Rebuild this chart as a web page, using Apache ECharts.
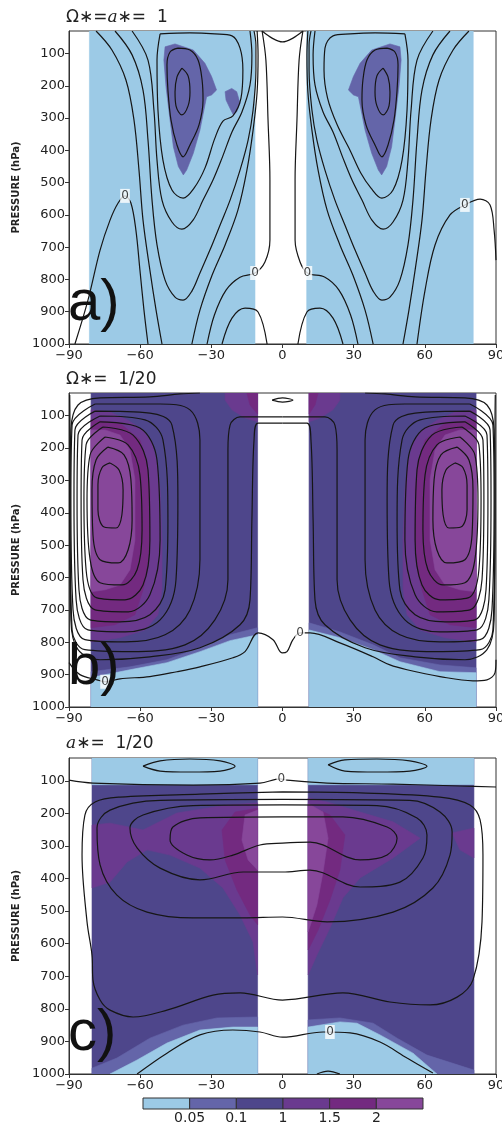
<!DOCTYPE html>
<html><head><meta charset="utf-8">
<script src="https://cdn.jsdelivr.net/npm/echarts@6/dist/echarts.min.js"></script>
<style>html,body{margin:0;padding:0;background:#fff}#c{width:502px;height:1122px}</style>
</head><body><div id="c"></div>
<script>
// ---------- axis ticks ----------
const latTicks = [-90,-60,-30,0,30,60,90];
const pTicks = [100,200,300,400,500,600,700,800,900,1000];
const cbLabels = ['0.05','0.1','1','1.5','2'];

// ---------- panel a (Ω*=a*=1) ----------
const aBands = [[-81.4,-11.6],[10.2,80.4]];
const aBlobL = [[-49.5,79],[-45.3,70],[-37.6,89],[-32.7,130],[-29.9,171],[-27.8,213],[-29.9,228],[-32.0,234],[-33.4,285],[-34.8,337],[-37.6,409],[-40.4,461],[-41.8,476],[-43.9,450],[-46.0,389],[-47.4,306],[-49.1,203],[-50.0,120]];
const aBlobSmall = [[-24.2,218],[-21.4,208],[-19.3,218],[-17.9,254],[-19.3,280],[-20.7,290],[-22.1,270],[-23.8,244]];
const aBlobR = [[49.5,79],[45.3,70],[37.6,89],[32.7,130],[29.9,171],[27.8,213],[29.9,228],[32.0,234],[33.4,285],[34.8,337],[37.6,409],[40.4,461],[41.8,476],[43.9,450],[46.0,389],[47.4,306],[49.1,203],[50.0,120]];
const aL1 = [[-42.4,145],[-39.8,169],[-39,219],[-39.8,262],[-42.4,290],[-44.9,262],[-45.3,219],[-44.5,173],[-42.4,145]];
const aL2 = [[-44.1,83],[-39,89],[-35.6,120],[-33.9,182],[-33.5,244],[-35.2,321],[-39,383],[-41.9,420],[-44.5,383],[-47,306],[-48.3,213],[-48.7,135],[-47.4,95],[-44.1,83]];
const aL3 = [[-51.6,39],[-39,36],[-28.5,39],[-21.3,45],[-17.9,83],[-16.7,151],[-17.5,238],[-20.9,293],[-25.1,309],[-28.5,362],[-32.7,455],[-37.3,517],[-41.9,548],[-46.6,523],[-50.4,430],[-52.5,275],[-52.9,120],[-51.6,39]];
const aL4 = [[-63.4,30],[-56.7,120],[-54.2,275],[-52.9,430],[-50.8,554],[-46.6,622],[-42.4,644],[-37.7,616],[-33.5,554],[-29.3,492],[-25.5,424],[-21.3,343],[-17.1,281],[-13.7,197],[-12.9,104],[-13.7,30]];
const aL5 = [[-70.6,30],[-63.4,104],[-58.8,213],[-56.7,368],[-55,554],[-52.9,693],[-49.5,802],[-45.3,855],[-41.9,864],[-38.2,836],[-34.8,780],[-30.6,709],[-26.3,631],[-22.1,554],[-17.9,461],[-14.5,368],[-12.4,275],[-11.2,151],[-11.2,73],[-12,30]];
const aL6 = [[-78.6,30],[-71.9,89],[-66,182],[-62.6,306],[-60.5,461],[-58.8,616],[-55.9,771],[-53.3,895],[-50.8,1000]];
const a0L = [[-87.5,1000],[-82,864],[-76.9,709],[-72.7,616],[-69.3,563],[-66.4,541],[-63.9,563],[-61.8,647],[-60.1,771],[-58.4,895],[-56.7,1000]];
const aL7 = [[-38.2,1000],[-34.8,895],[-29.7,787],[-24.2,693],[-18.8,585],[-15,461],[-12.4,337],[-10.7,219],[-10.3,104],[-10.7,30]];
const aL8 = [[-31.8,1000],[-28.7,910],[-23.8,833],[-17.9,793],[-11.6,780],[-7.4,746],[-5.3,678],[-5.3,492],[-6.1,306],[-7,120],[-8.6,30]];
const aL9 = [[-25.5,1000],[-21.3,920],[-15.8,889],[-10.3,901],[-6.5,1000]];
const aArch = [[-8.6,30],[-4.4,52],[0,64],[4.4,52],[8.6,30]];
const aR1 = [[42.4,145],[39.8,169],[39,219],[39.8,262],[42.4,290],[44.9,262],[45.3,219],[44.5,173],[42.4,145]];
const aR2 = [[44.1,83],[39,89],[35.6,120],[33.9,182],[33.5,244],[35.2,321],[39,383],[41.9,420],[44.5,383],[47,306],[48.3,213],[48.7,135],[47.4,95],[44.1,83]];
const aR3 = [[51.6,39],[39,36],[28.5,39],[21.3,45],[17.9,83],[17.5,151],[19,238],[23,320],[28.5,400],[33,470],[37.3,517],[41.9,548],[46.6,523],[50.4,430],[52.5,275],[52.9,120],[51.6,39]];
const aR4 = [[63.4,30],[56.7,120],[54.2,275],[52.9,430],[50.8,554],[46.6,622],[42.4,644],[37.7,616],[33.5,554],[29.3,492],[25.5,424],[21.3,343],[17.1,281],[13.7,197],[12.9,104],[13.7,30]];
const aR5 = [[70.6,30],[63.4,104],[58.8,213],[56.7,368],[55,554],[52.9,693],[49.5,802],[45.3,855],[41.9,864],[38.2,836],[34.8,780],[30.6,709],[26.3,631],[22.1,554],[17.9,461],[14.5,368],[12.4,275],[11.2,151],[11.2,73],[12,30]];
const aR6 = [[78.6,30],[71.9,89],[66,182],[62.6,306],[60.5,461],[58.8,616],[55.9,771],[53.3,895],[50.8,1000]];
const a0R = [[56.7,1000],[60.1,833],[64.3,693],[70.6,600],[76.9,569],[83.3,551],[87.5,569],[89.2,647],[90,740]];
const aR7 = [[38.2,1000],[34.8,895],[29.7,787],[24.2,693],[18.8,585],[15,461],[12.4,337],[10.7,219],[10.3,104],[10.7,30]];
const aR8 = [[31.8,1000],[28.7,910],[23.8,833],[17.9,793],[10.5,780],[7.4,746],[5.3,678],[5.3,492],[6.1,306],[7,120],[8.6,30]];
const aR9 = [[25.5,1000],[21.3,920],[15.8,889],[10.3,901],[6.5,1000]];
const aZeroLabels = [[-66.4,541],[-11.6,780],[10.5,780],[76.9,569]];

// ---------- panel b (Ω*=1/20) ----------
const bBands = [[-80.7,-10.5],[11.2,81.6]];
const bP1L = [[-80.7,82],[-72.7,89],[-65.5,113],[-58.8,144],[-55,184],[-52.9,246],[-51.6,329],[-50.8,484],[-50.8,638],[-52.5,715],[-58,762],[-68.5,786],[-80.7,799]];
const bP2L = [[-80.7,113],[-68.5,123],[-60.1,175],[-57.1,246],[-55.9,329],[-55.9,484],[-57.1,586],[-58.8,638],[-62.2,715],[-70.6,746],[-80.7,755]];
const bP3L = [[-80.7,144],[-74.8,144],[-68.5,160],[-64.3,206],[-62.2,298],[-62.2,484],[-64.3,576],[-68.5,623],[-74.8,638],[-80.7,644]];
const bP1R = [[81.6,82],[72.7,89],[65.5,113],[58.8,144],[55,184],[52.9,246],[51.6,329],[50.8,484],[50.8,638],[52.5,715],[58,762],[68.5,786],[81.6,799]];
const bP2R = [[81.6,113],[68.5,123],[60.1,175],[57.1,246],[55.9,329],[55.9,484],[57.1,586],[58.8,638],[62.2,715],[70.6,746],[81.6,755]];
const bP3R = [[81.6,144],[74.8,144],[68.5,160],[64.3,206],[62.2,298],[62.2,484],[64.3,576],[68.5,623],[74.8,638],[81.6,644]];
const bT1L = [[-24.2,30],[-10.5,30],[-10.5,119],[-15.8,107],[-21.3,82],[-24.2,52]];
const bT2L = [[-15,30],[-10.5,30],[-10.5,95],[-13.7,67]];
const bT1R = [[24.2,30],[11.2,30],[11.2,119],[15.8,107],[21.3,82],[24.2,52]];
const bT2R = [[15,30],[11.2,30],[11.2,95],[13.7,67]];
const bMidL = [[-80.7,891],[-64.3,876],[-48.7,854],[-34.8,817],[-22.1,777],[-10.5,755],[-10.5,1000],[-80.7,1000]];
const bLbL = [[-80.7,909],[-64.3,885],[-48.7,863],[-34.8,829],[-22.1,795],[-10.5,777],[-10.5,1000],[-80.7,1000]];
const bMidR = [[11.2,740],[24.2,768],[38.2,808],[49.5,848],[66.4,870],[81.6,879],[81.6,1000],[11.2,1000]];
const bLbR = [[11.2,762],[24.2,786],[38.2,823],[49.5,860],[66.4,891],[81.6,894],[81.6,1000],[11.2,1000]];
const bL1 = [[-72.7,246],[-68.9,268],[-67.2,329],[-67.7,406],[-70.2,447],[-75.2,444],[-77.8,391],[-77.8,314],[-76.1,261],[-72.7,246]];
const bL2 = [[-73.6,197],[-66.8,221],[-63.9,298],[-63.4,422],[-65.1,515],[-69.3,555],[-76.9,545],[-79.9,468],[-80.3,329],[-78.6,237],[-73.6,197]];
const bL3 = [[-74.8,166],[-65.1,190],[-60.1,283],[-59.2,453],[-61.3,576],[-67.7,623],[-76.9,616],[-81.1,545],[-82.4,360],[-81.1,221],[-74.8,166]];
const bL4 = [[-75.7,135],[-63,160],[-56.7,268],[-55.9,484],[-58.8,623],[-66.4,669],[-78.2,663],[-82.8,576],[-83.7,360],[-82.8,190],[-75.7,135]];
const bL5 = [[-76.9,119],[-60.1,138],[-52.9,237],[-51.6,484],[-55.9,653],[-65.1,706],[-79,700],[-84.1,607],[-84.9,360],[-84.5,175],[-76.9,119]];
const bL6 = [[-76.9,101],[-58,113],[-50.4,175],[-48.3,422],[-49.5,638],[-55.9,715],[-68.5,737],[-81.1,731],[-85.8,638],[-86.6,360],[-86.2,160],[-76.9,101]];
const bL7 = [[-79,86],[-55.9,92],[-46.6,129],[-44.1,360],[-44.9,607],[-51.6,731],[-66.4,768],[-82,762],[-87,669],[-87.9,360],[-87.5,144],[-79,86]];
const bL8 = [[-79,64],[-51.6,64],[-39,82],[-34.8,175],[-34.8,545],[-39,700],[-49.5,777],[-66.4,799],[-83.3,792],[-88.3,700],[-89.2,360],[-88.7,129],[-79,64]];
const bL9 = [[0,104],[-10.3,104],[-17.9,104],[-22.1,129],[-23,206],[-23,607],[-28.5,731],[-41.1,808],[-64.3,829],[-83.3,823],[-88.7,762],[-89.6,360],[-89.2,144],[-86.2,67],[-76.9,45],[-55.9,42],[-43.2,33],[-34.8,30]];
const bL10 = [[0,123],[-10.3,123],[-12,175],[-12.9,422],[-13.7,669],[-17.9,746],[-34.8,817],[-55.9,845],[-76.9,854],[-86.2,823],[-89.2,731],[-89.6,360],[-89.6,113],[-89.7,36]];
const bR1 = [[72.7,246],[68.9,268],[67.2,329],[67.7,406],[70.2,447],[75.2,444],[77.8,391],[77.8,314],[76.1,261],[72.7,246]];
const bR2 = [[73.6,197],[66.8,221],[63.9,298],[63.4,422],[65.1,515],[69.3,555],[76.9,545],[79.9,468],[80.3,329],[78.6,237],[73.6,197]];
const bR3 = [[74.8,166],[65.1,190],[60.1,283],[59.2,453],[61.3,576],[67.7,623],[76.9,616],[81.1,545],[82.4,360],[81.1,221],[74.8,166]];
const bR4 = [[75.7,135],[63,160],[56.7,268],[55.9,484],[58.8,623],[66.4,669],[78.2,663],[82.8,576],[83.7,360],[82.8,190],[75.7,135]];
const bR5 = [[76.9,119],[60.1,138],[52.9,237],[51.6,484],[55.9,653],[65.1,706],[79,700],[84.1,607],[84.9,360],[84.5,175],[76.9,119]];
const bR6 = [[76.9,101],[58,113],[50.4,175],[48.3,422],[49.5,638],[55.9,715],[68.5,737],[81.1,731],[85.8,638],[86.6,360],[86.2,160],[76.9,101]];
const bR7 = [[79,86],[55.9,92],[46.6,129],[44.1,360],[44.9,607],[51.6,731],[66.4,768],[82,762],[87,669],[87.9,360],[87.5,144],[79,86]];
const bR8 = [[79,64],[51.6,64],[39,82],[34.8,175],[34.8,545],[39,700],[49.5,777],[66.4,799],[83.3,792],[88.3,700],[89.2,360],[88.7,129],[79,64]];
const bR9 = [[0,104],[10.3,104],[17.9,104],[22.1,129],[23,206],[23,607],[28.5,731],[41.1,808],[64.3,829],[83.3,823],[88.7,762],[89.6,360],[89.2,144],[86.2,67],[76.9,45],[55.9,42],[43.2,33],[34.8,30]];
const bR10 = [[0,123],[10.3,123],[12,175],[12.9,422],[13.7,669],[17.9,746],[34.8,817],[55.9,845],[76.9,854],[86.2,823],[89.2,731],[89.6,360],[89.6,113],[89.7,36]];
const b0 = [[-90,863],[-85.4,900],[-78.2,916],[-74.8,922],[-68.5,913],[-55.9,906],[-44.5,891],[-34.8,876],[-20.9,848],[-15.8,829],[-10.3,771],[-4,792],[-0.2,833],[1.9,829],[4.4,792],[7.4,771],[11.6,771],[24.2,802],[38.2,845],[45.3,870],[52.5,885],[66.4,906],[80.3,919],[86.2,916],[89.6,894],[90,854]];
const bEll = [[-4.4,52],[0,45],[4.4,52],[0,58],[-4.4,52]];
const bZeroLabels = [[-74.8,922],[7.4,771]];

// ---------- panel c (a*=1/20) ----------
const cBands = [[-80.3,-10.5],[10.8,80.7]];
const cTopTop = 112;
const cP1L = [[-80.3,236],[-72.7,230],[-58.8,251],[-44.5,199],[-23.4,174],[-10.5,168],[-10.5,696],[-12.4,595],[-17.9,512],[-25.1,429],[-34.8,368],[-47.4,328],[-57.1,312],[-65.5,349],[-72.7,411],[-80.3,429]];
const cP2L = [[-10.5,184],[-20,196],[-25.5,251],[-24.2,343],[-19.2,435],[-13.7,512],[-10.5,542]];
const cP3L = [[-10.5,190],[-15.8,205],[-17.1,282],[-14.5,343],[-10.5,374]];
const cP1R = [[10.8,153],[18.8,165],[32.7,196],[46.6,226],[58,276],[46.6,337],[32.7,398],[25.5,459],[20,552],[14.5,635],[10.8,696]];
const cP1R2 = [[71.5,260],[80.7,245],[80.7,337],[74.8,312]];
const cP2R = [[10.8,174],[20,205],[26.3,266],[24.2,374],[20,466],[15,558],[10.8,619]];
const cP3R = [[10.8,170],[17.1,196],[19.2,276],[17.1,380],[14.5,481],[10.8,564]];
const cMidL = [[-80.3,982],[-69.8,951],[-55.9,890],[-41.9,850],[-27.6,828],[-10.5,825],[-10.5,1000],[-80.3,1000]];
const cLbL = [[-72.7,1000],[-61.3,957],[-48.7,905],[-34.8,865],[-20.9,856],[-10.5,856],[-10.5,1000]];
const cMidR = [[10.8,834],[24.2,828],[38.2,844],[48.3,890],[60.9,942],[80.7,988],[80.7,1000],[10.8,1000]];
const cLbR = [[10.8,856],[24.2,840],[31.4,844],[41.1,880],[55,936],[65.1,1000],[10.8,1000]];
const c0top = [[-90,98],[-79.9,107],[-37.7,113],[-9.5,107],[-1,94],[1.9,98],[18.8,107],[46.6,110],[74.8,116],[90,119]];
const cEllL = [[-58.8,55],[-51.6,39],[-39,33],[-26.3,39],[-20,55],[-26.3,70],[-39,73],[-51.6,70],[-58.8,55]];
const cEllR = [[19.2,51],[26.3,36],[39.8,33],[53.7,39],[60.9,55],[53.7,70],[39.8,73],[26.3,70],[19.2,51]];
const c1 = [[0,134],[-34.8,141],[-68.5,150],[-79,165],[-83.3,205],[-84.5,328],[-82.4,533],[-80.3,635],[-79.9,711],[-76.9,773],[-72.7,804],[-63,825],[-48.7,804],[-29.3,758],[-17.9,751],[0,773],[25.5,751],[45.3,779],[62.2,788],[73.6,764],[80.3,711],[84.1,533],[84.5,328],[83.3,220],[79,174],[66.4,150],[32.7,137],[0,134]];
const c2 = [[0,157],[-51.6,160],[-72.7,190],[-78.2,245],[-76.9,358],[-69.8,451],[-57.1,503],[-37.7,521],[-16.6,521],[0,518],[18.8,533],[46.6,503],[63.4,429],[70.6,328],[71.5,257],[66.4,196],[53.7,160],[0,157]];
const c3 = [[0,174],[-37.7,176],[-58.8,205],[-64.3,245],[-61.3,306],[-51.6,368],[-34.8,404],[-16.6,380],[0,380],[11.6,374],[32.7,426],[49.5,411],[59.2,337],[60.9,266],[56.7,214],[39.8,176],[0,174]];
const c4 = [[0,211],[-34.8,214],[-46.2,242],[-47.4,282],[-40.3,328],[-30.6,343],[-20.9,328],[-9.5,297],[0,291],[11.6,288],[32.7,343],[44.1,328],[48.3,276],[44.1,242],[25.5,211],[0,211]];
const c0bot = [[-61.3,1000],[-48.7,936],[-34.8,880],[-20.9,865],[-9.5,871],[0,887],[17.1,871],[28.5,874],[41.1,902],[52.5,951],[63.4,997]];
const cSmall = [[14.5,1000],[19.2,991],[24.2,1000]];
const cZeroLabels = [[-0.5,94],[20,871]];

// ---------- styles ----------
const COL = {lb:'#9ccae6', mid:'#6465a9', ind:'#4e468b', p1:'#6a3a8f', p2:'#732a80', p3:'#87479a'};
const cbColors = [COL.lb, COL.mid, COL.ind, COL.p1, COL.p2, COL.p3];
const FONT = 'DejaVu Sans';

function band(b, p0, p1){ return [[b[0],p0],[b[1],p0],[b[1],p1],[b[0],p1]]; }

const aLayers = [
  {c:COL.lb, pts:band(aBands[0],30,1000)}, {c:COL.lb, pts:band(aBands[1],30,1000)},
  {c:COL.mid, pts:aBlobL}, {c:COL.mid, pts:aBlobSmall}, {c:COL.mid, pts:aBlobR}
];
const bLayers = [
  {c:COL.ind, pts:band(bBands[0],30,1000)}, {c:COL.ind, pts:band(bBands[1],30,1000)},
  {c:COL.mid, pts:bMidL}, {c:COL.lb, pts:bLbL}, {c:COL.mid, pts:bMidR}, {c:COL.lb, pts:bLbR},
  {c:COL.p1, pts:bP1L}, {c:COL.p2, pts:bP2L}, {c:COL.p3, pts:bP3L},
  {c:COL.p1, pts:bP1R}, {c:COL.p2, pts:bP2R}, {c:COL.p3, pts:bP3R},
  {c:COL.p1, pts:bT1L}, {c:COL.p2, pts:bT2L}, {c:COL.p1, pts:bT1R}, {c:COL.p2, pts:bT2R}
];
const cLayers = [
  {c:COL.ind, pts:band(cBands[0],30,1000)}, {c:COL.ind, pts:band(cBands[1],30,1000)},
  {c:COL.lb, pts:band(cBands[0],30,cTopTop)}, {c:COL.lb, pts:band(cBands[1],30,cTopTop)},
  {c:COL.p1, pts:cP1L}, {c:COL.p2, pts:cP2L}, {c:COL.p3, pts:cP3L},
  {c:COL.p1, pts:cP1R}, {c:COL.p1, pts:cP1R2}, {c:COL.p2, pts:cP2R}, {c:COL.p3, pts:cP3R},
  {c:COL.mid, pts:cMidL}, {c:COL.lb, pts:cLbL}, {c:COL.mid, pts:cMidR}, {c:COL.lb, pts:cLbR}
];

function fillSeries(k, layers){
  return {type:'custom', xAxisIndex:k, yAxisIndex:k, silent:true, z:1, clip:true,
    data: layers.map((L,i)=>[L.pts[0][0], L.pts[0][1], i]),
    renderItem:(params, api)=>{
      const L = layers[api.value(2)];
      return {type:'polygon', shape:{points:L.pts.map(p=>api.coord(p))},
              style:{fill:L.c, stroke:L.c, lineWidth:0.6}};
    }};
}
function lineS(k, d){
  return {type:'line', xAxisIndex:k, yAxisIndex:k, data:d, symbol:'none', smooth:0.35,
          silent:true, z:3, clip:true, lineStyle:{color:'#161616', width:1.2}};
}
function labS(k, d){
  return {type:'scatter', xAxisIndex:k, yAxisIndex:k, data:d, symbolSize:1, silent:true, z:5,
    itemStyle:{color:'rgba(0,0,0,0)'},
    label:{show:true, position:'inside', formatter:'0', fontSize:12, fontFamily:FONT,
           color:'#111', backgroundColor:'#fff', padding:[1,1]}};
}

const gridPos = [
  {left:69, top:31, width:427, height:313},
  {left:69, top:393, width:427, height:314},
  {left:69, top:758, width:427, height:316},
  {left:143, top:1098, width:280, height:11}
];
const grids = gridPos.map((g,i)=>Object.assign({containLabel:false, outerBoundsMode:'none',
  show:i<3, borderColor:'#333', borderWidth:1, backgroundColor:'transparent'}, g));

const xAxes = [0,1,2].map(k=>({gridIndex:k, type:'value', min:-90, max:90,
  axisLine:{show:true, onZero:false, lineStyle:{color:'#333'}},
  axisTick:{show:true, length:4, customValues:latTicks, lineStyle:{color:'#333'}},
  axisLabel:{customValues:latTicks, margin:5, fontSize:13, fontFamily:FONT, color:'#222',
             formatter:v=>String(v).replace('-','\u2212')},
  splitLine:{show:false}}));
xAxes.push({gridIndex:3, type:'value', min:0, max:6, axisLine:{show:false}, axisTick:{show:false},
  splitLine:{show:false},
  axisLabel:{customValues:[1,2,3,4,5], margin:2, fontSize:14, fontFamily:FONT, color:'#222',
             formatter:v=>cbLabels[Math.round(v)-1]}});

const yAxes = [0,1,2].map(k=>({gridIndex:k, type:'value', inverse:true, min:30, max:1000,
  axisLine:{show:true, onZero:false, lineStyle:{color:'#333'}},
  axisTick:{show:true, length:4, customValues:pTicks, lineStyle:{color:'#333'}},
  axisLabel:{customValues:pTicks, margin:4, fontSize:13, fontFamily:FONT, color:'#222',
             formatter:v=>String(v)},
  splitLine:{show:false},
  name:'PRESSURE (hPa)', nameLocation:'middle', nameGap:38, nameRotate:90,
  nameTextStyle:{fontSize:10, fontWeight:'bold', fontFamily:FONT, color:'#222'}}));
yAxes.push({gridIndex:3, type:'value', min:0, max:1, show:false});

const ttl = {fontFamily:FONT, fontSize:17, fontWeight:'normal', color:'#222',
  rich:{i:{fontFamily:'DejaVu Serif', fontStyle:'italic', fontSize:17, color:'#222'}}};
const big = {fontFamily:'Liberation Sans', fontSize:58, fontWeight:'normal', color:'#111'};

const series = [
  fillSeries(0, aLayers), fillSeries(1, bLayers), fillSeries(2, cLayers),
  ...[aL1,aL2,aL3,aL4,aL5,aL6,a0L,aL7,aL8,aL9,aArch,aR1,aR2,aR3,aR4,aR5,aR6,a0R,aR7,aR8,aR9].map(d=>lineS(0,d)),
  ...[bL1,bL2,bL3,bL4,bL5,bL6,bL7,bL8,bL9,bL10,bR1,bR2,bR3,bR4,bR5,bR6,bR7,bR8,bR9,bR10,b0,bEll].map(d=>lineS(1,d)),
  ...[c0top,cEllL,cEllR,c1,c2,c3,c4,c0bot,cSmall].map(d=>lineS(2,d)),
  labS(0, aZeroLabels), labS(1, bZeroLabels), labS(2, cZeroLabels),
  {type:'custom', xAxisIndex:3, yAxisIndex:3, silent:true,
   data: cbColors.map((c,i)=>[i,0,i]),
   renderItem:(params, api)=>{
     const i = api.value(2);
     const p0 = api.coord([i,1]), p1 = api.coord([i+1,0]);
     return {type:'rect', shape:{x:p0[0], y:p0[1], width:p1[0]-p0[0], height:p1[1]-p0[1]},
             style:{fill:cbColors[i], stroke:'#333', lineWidth:1}};
   }}
];

const option = {
  animation:false, backgroundColor:'#fff',
  title:[
    {text:'Ω\u2217={i|a}\u2217=  1', left:66, top:9, padding:0, textStyle:ttl},
    {text:'Ω\u2217=  1/20', left:66, top:371, padding:0, textStyle:ttl},
    {text:'{i|a}\u2217=  1/20', left:66, top:735, padding:0, textStyle:ttl},
    {text:'a)', left:68, top:275, padding:0, textStyle:big},
    {text:'b)', left:68, top:639, padding:0, textStyle:big},
    {text:'c)', left:68, top:1005, padding:0, textStyle:big}
  ],
  grid:grids, xAxis:xAxes, yAxis:yAxes, series:series
};
const chart = echarts.init(document.getElementById('c'), null, {renderer:'canvas'});
chart.setOption(option);
</script></body></html>
